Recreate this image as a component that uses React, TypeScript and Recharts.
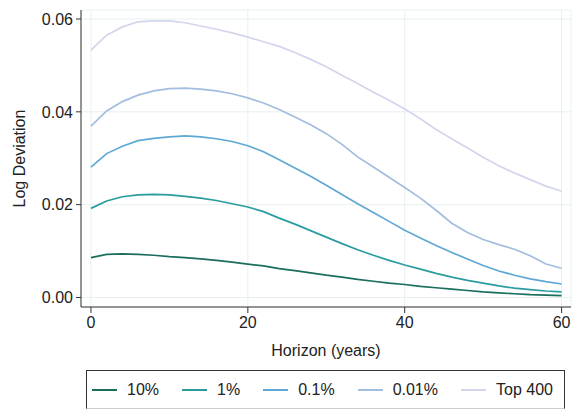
import React from 'react'
import { LineChart, Line, XAxis, YAxis, CartesianGrid, Legend } from 'recharts'

const horizon = [0, 2, 4, 6, 8, 10, 12, 14, 16, 18, 20, 22, 24, 26, 28, 30, 32, 34, 36, 38, 40, 42, 44, 46, 48, 50, 52, 54, 56, 58, 60]

const top10 = [0.0086, 0.0093, 0.0094, 0.0093, 0.0091, 0.0088, 0.0086, 0.0083, 0.0080, 0.0076, 0.0072, 0.0068, 0.0062, 0.0058, 0.0053, 0.0048, 0.0044, 0.0039, 0.0035, 0.0031, 0.0028, 0.0024, 0.0021, 0.0018, 0.0015, 0.0012, 0.0010, 0.0008, 0.0006, 0.0005, 0.0004]
const top1 = [0.0192, 0.0208, 0.0217, 0.0221, 0.0222, 0.0221, 0.0218, 0.0214, 0.0209, 0.0202, 0.0195, 0.0185, 0.0171, 0.0158, 0.0144, 0.0130, 0.0116, 0.0103, 0.0091, 0.0080, 0.0070, 0.0061, 0.0052, 0.0044, 0.0037, 0.0031, 0.0025, 0.0020, 0.0017, 0.0014, 0.0012]
const top01 = [0.0281, 0.0310, 0.0326, 0.0338, 0.0343, 0.0346, 0.0348, 0.0346, 0.0342, 0.0336, 0.0327, 0.0314, 0.0297, 0.0279, 0.0261, 0.0242, 0.0222, 0.0202, 0.0183, 0.0164, 0.0145, 0.0128, 0.0112, 0.0097, 0.0083, 0.0069, 0.0057, 0.0048, 0.0040, 0.0034, 0.0029]
const top001 = [0.0369, 0.0402, 0.0422, 0.0436, 0.0445, 0.0450, 0.0451, 0.0449, 0.0445, 0.0439, 0.0430, 0.0419, 0.0405, 0.0389, 0.0372, 0.0353, 0.0330, 0.0303, 0.0281, 0.0259, 0.0237, 0.0214, 0.0188, 0.0160, 0.0140, 0.0125, 0.0114, 0.0104, 0.0090, 0.0072, 0.0063]
const top400 = [0.0533, 0.0565, 0.0583, 0.0594, 0.0596, 0.0596, 0.0592, 0.0585, 0.0578, 0.0570, 0.0561, 0.0551, 0.0541, 0.0528, 0.0513, 0.0497, 0.0479, 0.0461, 0.0442, 0.0425, 0.0406, 0.0385, 0.0362, 0.0342, 0.0322, 0.0302, 0.0284, 0.0268, 0.0254, 0.0240, 0.0229]

const xTicks = [0, 20, 40, 60]
const yTicks = [0, 0.02, 0.04, 0.06]

const series = [
    { key: 'p10', name: '10%', color: '#1b6e5f', values: top10 },
    { key: 'p1', name: '1%', color: '#2a9ca0', values: top1 },
    { key: 'p01', name: '0.1%', color: '#5fa8d6', values: top01 },
    { key: 'p001', name: '0.01%', color: '#a2bddf', values: top001 },
    { key: 'top400', name: 'Top 400', color: '#d3d5ec', values: top400 },
]

const chartData = horizon.map((h, i) => {
    const row: any = { horizon: h }
    series.forEach(s => { row[s.key] = s.values[i] })
    return row
})

const FONT = '"Liberation Sans", Arial, Helvetica, sans-serif'

function YLabel() {
    return (
        <text x={19} y={158.5} transform="rotate(-90, 19, 158.5)" textAnchor="middle"
            dominantBaseline="central" fontSize={16} fill="#222" fontFamily={FONT}>
            Log Deviation
        </text>
    )
}

function LegendBox() {
    return (
        <div style={{
            boxSizing: 'border-box', width: 479, height: 39, border: '1px solid #333',
            borderBottomColor: '#ccc', display: 'flex', alignItems: 'center', paddingLeft: 5,
            fontFamily: FONT, fontSize: 16, color: '#222', whiteSpace: 'nowrap'
        }}>
            {series.map(s => (
                <div key={s.key} style={{ display: 'flex', alignItems: 'center', marginRight: 23, flexShrink: 0 }}>
                    <div style={{ width: 25, height: 2, background: s.color, marginRight: 10 }} />
                    <span>{s.name}</span>
                </div>
            ))}
        </div>
    )
}

export default function App() {
    return (
        <div style={{ position: 'absolute', left: 0, top: 0, background: '#fff' }}>
            <LineChart width={572} height={409} data={chartData}
                margin={{ top: 10, right: 1, left: 0, bottom: 47 }}>
                <CartesianGrid stroke="#e6f0f0" strokeWidth={1} />
                <XAxis dataKey="horizon" type="number" domain={[-1.27, 61.2]} ticks={xTicks}
                    allowDataOverflow height={55} stroke="#333" tickSize={6} tickMargin={4}
                    tick={{ fill: '#222', fontSize: 16, fontFamily: FONT }}
                    label={{ value: 'Horizon (years)', position: 'insideBottom', offset: 6, fill: '#222', fontSize: 16, fontFamily: FONT }} />
                <YAxis type="number" domain={[-0.00205, 0.06194]} ticks={yTicks} allowDataOverflow
                    width={81} stroke="#333" tickSize={5} tickMargin={3}
                    tickFormatter={(v: number) => v.toFixed(2)}
                    tick={{ fill: '#222', fontSize: 16, fontFamily: FONT }}
                    label={<YLabel />} />
                <Legend verticalAlign="middle" layout="horizontal"
                    wrapperStyle={{ position: 'absolute', left: 86, top: 370, width: 479, height: 39 }}
                    content={() => <LegendBox />} />
                {series.map(s => (
                    <Line key={s.key} dataKey={s.key} name={s.name} type="linear" stroke={s.color}
                        strokeWidth={1.7} dot={false} isAnimationActive={false} />
                ))}
            </LineChart>
        </div>
    )
}
